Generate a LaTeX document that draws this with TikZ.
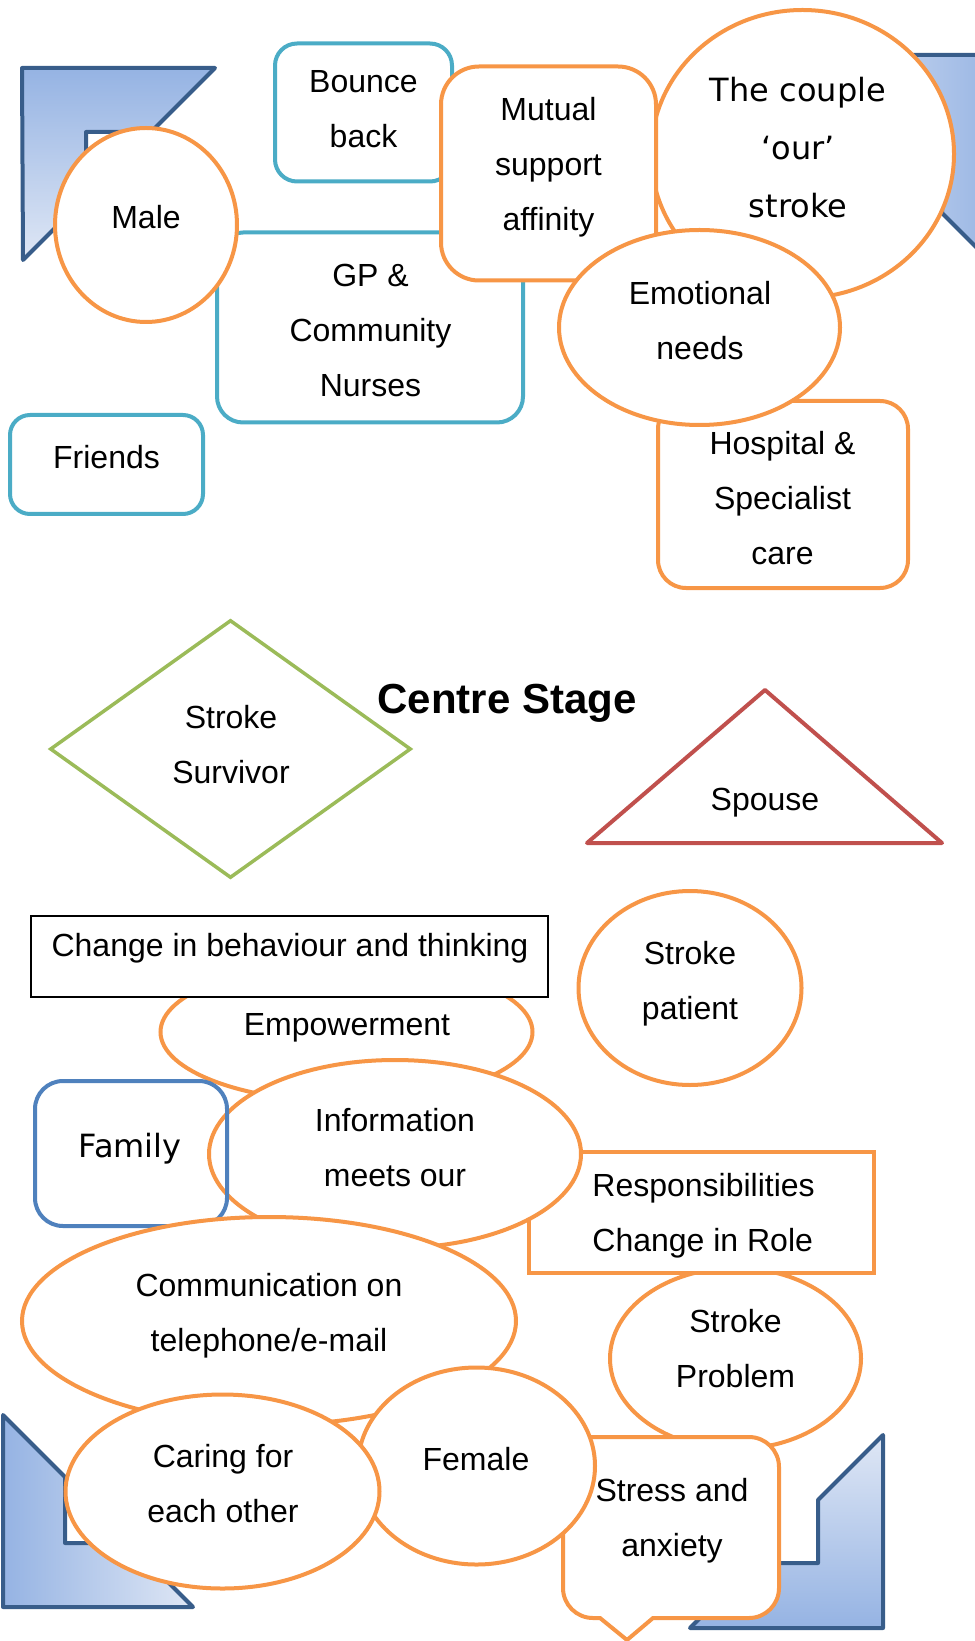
\documentclass[tikz,border=0pt]{standalone}
\usepackage{fontspec}
\setmainfont{Liberation Sans}
\newfontfamily\verdanafont{DejaVu Sans}
\usetikzlibrary{shapes.geometric}

\definecolor{sorange}{HTML}{F79646}
\definecolor{steal}{HTML}{4BACC6}
\definecolor{sblue}{HTML}{4F81BD}
\definecolor{sgreen}{HTML}{9BBB59}
\definecolor{sred}{HTML}{C0504D}
\definecolor{framedark}{HTML}{385D8A}
\definecolor{shadedark}{HTML}{95B3E3}
\definecolor{shadelight}{HTML}{DFE7F5}

\begin{document}
\begin{tikzpicture}[
        x=0.5pt, y=-0.5pt,
        inner sep=0pt,
        txt/.style={align=center, font=\fontsize{16}{27.5}\selectfont},
        vtxt/.style={align=center, font=\verdanafont\fontsize{16}{29}\selectfont},
        bubble/.style={ellipse, draw=sorange, line width=2pt, fill=white},
        obox/.style={rectangle, draw=sorange, line width=2pt, fill=white},
        tbox/.style={rectangle, draw=steal, line width=2pt, fill=white, rounded corners=11pt},
        halfframe/.style={draw=framedark, line width=2pt, line join=round},
    ]
    \useasboundingbox (0,0) rectangle (974,1641);

    % corner pieces
    \draw[halfframe, top color=shadedark, bottom color=shadelight]
        (22,68) -- (215,68) -- (151,132) -- (86,132) -- (86,197) -- (23,260) -- cycle;
    \draw[halfframe, left color=shadelight, right color=shadedark]
        (800,55) -- (1005,55) -- (1005,276) -- (942,213) -- (942,118) -- (863,118) -- cycle;
    \draw[halfframe, left color=shadedark, right color=shadelight]
        (3,1415) -- (65,1477) -- (65,1543) -- (129,1543) -- (193,1607) -- (3,1607) -- cycle;
    \draw[halfframe, top color=shadelight, bottom color=shadedark]
        (883,1435) -- (883,1628) -- (690,1628) -- (755,1563) -- (818,1563) -- (818,1500) -- cycle;

    % top cluster
    \node[tbox, minimum width=88.5pt, minimum height=69pt] (bounce) at (363.5,112.5) {};
    \node[tbox, rounded corners=13pt, minimum width=153pt, minimum height=95pt] (gp) at (370,327.5) {};
    \node[bubble, minimum width=91pt, minimum height=97pt] (male) at (146,225) {};
    \node[bubble, minimum width=151.5pt, minimum height=144pt] (couple) at (802.5,154) {};
    \node[obox, rounded corners=19pt, minimum width=107.5pt, minimum height=107pt] (mutual) at (548.5,173.5) {};
    \node[obox, rounded corners=14pt, minimum width=125pt, minimum height=93.5pt] (hospital) at (783,494.5) {};
    \node[bubble, minimum width=140.5pt, minimum height=97.5pt] (emotional) at (699.5,327.5) {};
    \node[tbox, rounded corners=10pt, minimum width=96.5pt, minimum height=49.5pt] (friends) at (106.5,464.5) {};

    % centre stage
    \node[diamond, draw=sgreen, line width=1.75pt, minimum width=180.5pt, minimum height=129pt] (survivor) at (230.5,749) {};
    \draw[sred, line width=2pt, line join=round] (765,690) -- (942,843) -- (587,843) -- cycle;

    % lower cluster
    \node[bubble, minimum width=186pt, minimum height=70pt] (empower) at (346.5,1032) {};
    \node[rectangle, draw=black, line width=0.75pt, fill=white, minimum width=258.5pt, minimum height=40.5pt] (change) at (289.5,956.5) {};
    \node[bubble, minimum width=111.5pt, minimum height=97pt] (patient) at (690,988) {};
    \node[bubble, minimum width=125.5pt, minimum height=90.5pt] (problem) at (735.5,1358.5) {};
    \node[obox, minimum width=172.5pt, minimum height=60.5pt] (roles) at (701.5,1212.5) {};
    \node[bubble, minimum width=186pt, minimum height=94pt] (info) at (395,1154) {};
    \node[rectangle, draw=sblue, line width=2pt, rounded corners=14pt, minimum width=96pt, minimum height=72.5pt] (family) at (131,1153.5) {};
    \node[bubble, minimum width=247pt, minimum height=104pt] (contact) at (269,1321) {};
    \draw[sorange, line width=2pt, fill=white]
        (600,1618) -- (593,1618) arc[start angle=270, end angle=180, radius=15pt]
        -- (563,1467) arc[start angle=180, end angle=90, radius=15pt]
        -- (749,1437) arc[start angle=90, end angle=0, radius=15pt]
        -- (779,1588) arc[start angle=0, end angle=-90, radius=15pt]
        -- (653,1618) -- (627,1640) -- cycle;
    \node[bubble, minimum width=118.5pt, minimum height=98.5pt] (female) at (476.5,1466) {};
    \node[bubble, minimum width=157pt, minimum height=97pt] (caring) at (222.5,1491.5) {};

    % labels
    \node[txt] (bounce-txt) at (363.5,109.5) {Bounce\\back};
    \node[txt] (gp-txt) at (370.5,330) {GP \&\\Community\\Nurses};
    \node[txt] (male-txt) at (146,217) {Male};
    \node[vtxt] (couple-txt) at (798,148) {The couple\\‘our’\\stroke};
    \node[txt] (mutual-txt) at (548.5,167) {Mutual\\support\\affinity};
    \node[txt] (emotional-txt) at (700,321) {Emotional\\needs};
    \node[txt] (hospital-txt) at (782.5,498) {Hospital \&\\Specialist\\care};
    \node[txt] (friends-txt) at (106.5,457) {Friends};
    \node[txt] (survivor-txt) at (231,745) {Stroke\\Survivor};
    \node[font=\bfseries\fontsize{21}{25}\selectfont] (centre) at (507,703) {Centre Stage};
    \node[txt] (spouse-txt) at (765,803) {Spouse};
    \node[txt] (change-txt) at (290,948) {Change in behaviour and thinking};
    \node[txt] (empower-txt) at (347,1028) {Empowerment};
    \node[txt] (patient-txt) at (690,983.5) {Stroke\\patient};
    \node[txt] (info-txt) at (395,1148) {Information\\meets our};
    \node[vtxt] (family-txt) at (130,1149) {Family};
    \node[txt, align=left, anchor=west] (roles-txt) at (592,1216) {Responsibilities\\Change in Role};
    \node[txt] (problem-txt) at (735.5,1349) {Stroke\\Problem};
    \node[txt] (contact-txt) at (269,1316) {Communication on\\telephone/e-mail};
    \node[txt] (stress-txt) at (672,1521) {Stress and\\anxiety};
    \node[txt] (female-txt) at (476,1459) {Female};
    \node[txt] (caring-txt) at (223,1484) {Caring for\\each other};
\end{tikzpicture}
\end{document}
